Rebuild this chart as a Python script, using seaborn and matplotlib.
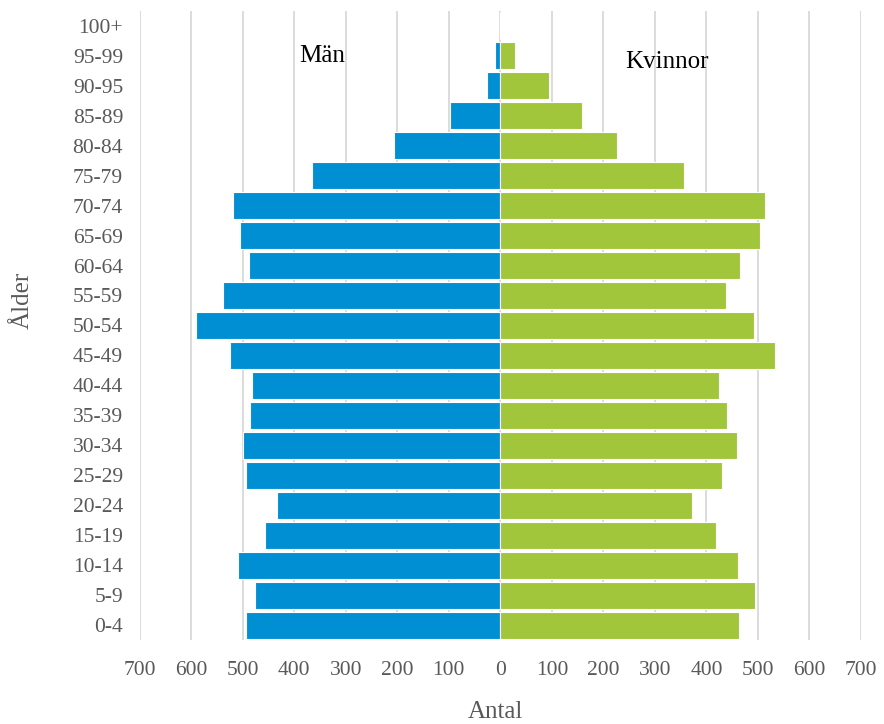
import matplotlib
matplotlib.use("Agg")
import matplotlib.pyplot as plt
import seaborn as sns
import pandas as pd
from matplotlib.ticker import FuncFormatter

ages = ['100+', '95-99', '90-95', '85-89', '80-84', '75-79', '70-74', '65-69',
        '60-64', '55-59', '50-54', '45-49', '40-44', '35-39', '30-34', '25-29',
        '20-24', '15-19', '10-14', '5-9', '0-4']
men = [0, 10, 26, 98, 206, 365, 518, 505, 487, 538, 591, 525, 482, 485, 500,
       493, 434, 456, 510, 477, 494]
women = [0, 28, 94, 158, 227, 357, 514, 503, 466, 437, 492, 533, 424, 439, 460,
         431, 372, 419, 462, 495, 464]
x_ticks = [-700, -600, -500, -400, -300, -200, -100, 0, 100, 200, 300, 400, 500, 600, 700]

df = pd.DataFrame({
    'Ålder': ages + ages,
    'Antal': [-m for m in men] + women,
    'Kön': ['Män'] * len(ages) + ['Kvinnor'] * len(ages),
})

sns.set_theme(style="white")
plt.rcParams['font.family'] = ['Liberation Serif', 'DejaVu Serif']

fig = plt.figure(figsize=(8.84, 7.24), dpi=100)
ax = fig.add_axes([0.158, 0.116, 0.816, 0.869])

sns.barplot(data=df, x='Antal', y='Ålder', hue='Kön', order=ages,
            palette={'Män': '#008FD3', 'Kvinnor': '#A1C53B'}, saturation=1,
            dodge=False, width=0.9, orient='h', legend=False,
            edgecolor='white', linewidth=0.8, ax=ax)

ax.set_xlim(-700, 700)
ax.set_ylim(20.5, -0.5)
ax.set_xticks(x_ticks)
ax.xaxis.set_major_formatter(FuncFormatter(lambda v, p: f"{abs(int(round(v)))}"))
ax.grid(axis='x', color='#D9D9D9', linewidth=1.3)
ax.grid(axis='y', visible=False)
ax.set_axisbelow(True)
for s in ax.spines.values():
    s.set_visible(False)

ax.tick_params(axis='x', labelsize=15.5, labelcolor='#595959', pad=15, length=0)
ax.tick_params(axis='y', labelsize=15.5, labelcolor='#595959', pad=12, length=0)

ax.set_xlabel('Antal', fontsize=18, color='#595959', va='center')
ax.xaxis.set_label_coords(0.493, -0.1145)
ax.set_ylabel('Ålder', fontsize=18, color='#595959', va='center')
ax.yaxis.set_label_coords(-0.1616, 0.54)

ax.text(-346, 1.0, 'Män', fontsize=18, color='black', ha='center', va='center')
ax.text(323, 1.2, 'Kvinnor', fontsize=18, color='black', ha='center', va='center')

fig.savefig('out.png', dpi=100)
